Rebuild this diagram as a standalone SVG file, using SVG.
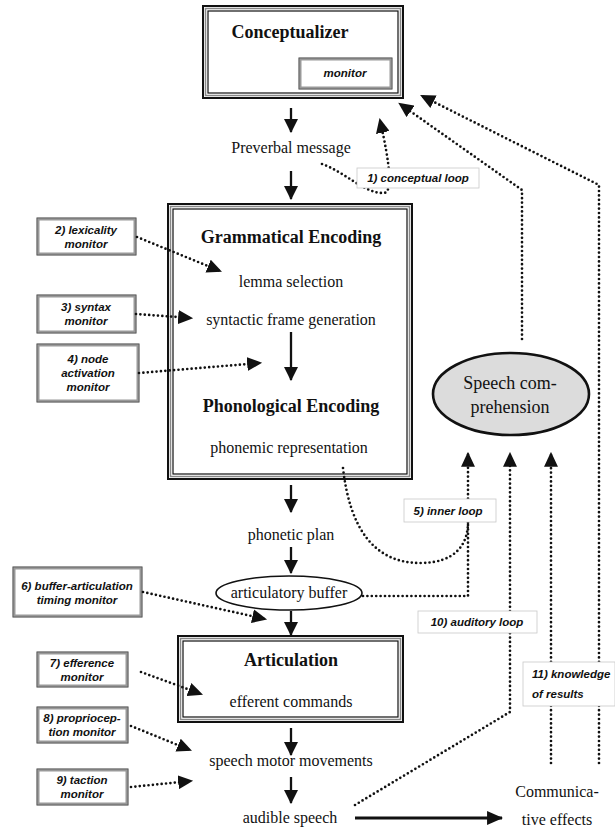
<svg xmlns="http://www.w3.org/2000/svg" width="615" height="832" viewBox="0 0 615 832">
<style>
.t{font-family:"Liberation Serif","Times New Roman",serif;font-size:16px;fill:#111;text-anchor:middle}
.tb{font-family:"Liberation Serif","Times New Roman",serif;font-size:18px;font-weight:bold;fill:#111;text-anchor:middle}
.sc{font-family:"Liberation Serif","Times New Roman",serif;font-size:18px;fill:#111;text-anchor:middle}
.m{font-family:"Liberation Sans",Arial,sans-serif;font-size:11.5px;font-weight:bold;font-style:italic;fill:#111;text-anchor:middle}
.ml{font-family:"Liberation Sans",Arial,sans-serif;font-size:11.5px;font-weight:bold;font-style:italic;fill:#111}
.b1{fill:#fff;stroke:#111;stroke-width:2}
.b2{fill:none;stroke:#888;stroke-width:1.5}
.b3{fill:none;stroke:#111;stroke-width:1.2}
.mo{fill:#fff;stroke:#999;stroke-width:3}
.mo2{fill:none;stroke:#555;stroke-width:0.8}
.lb{fill:#fff;stroke:#c8c8c8;stroke-width:0.8}
.sl{fill:none;stroke:#111;stroke-width:2.3;marker-end:url(#sa)}
.dt{fill:none;stroke:#111;stroke-width:2.7;stroke-linecap:round;stroke-dasharray:0 4.4}
.da{marker-end:url(#da)}
</style>
<defs>
<marker id="sa" markerUnits="userSpaceOnUse" markerWidth="14" markerHeight="14" viewBox="0 0 13 13" refX="12" refY="6.5" orient="auto"><path d="M0,0 L13,6.5 L0,13 z" fill="#111"/></marker>
<marker id="ta" markerUnits="userSpaceOnUse" markerWidth="16" markerHeight="14" viewBox="0 0 15 13" refX="14" refY="6.5" orient="auto"><path d="M0,0 L15,6.5 L0,13 z" fill="#111"/></marker>
<marker id="da" markerUnits="userSpaceOnUse" markerWidth="15" markerHeight="14" viewBox="0 0 14 13" refX="12" refY="6.5" orient="auto"><path d="M0,0 L14,6.5 L0,13 z" fill="#111"/></marker>
</defs>
<rect width="615" height="832" fill="#fff"/>

<g id="conceptualizer">
<rect class="b1" x="203" y="6" width="200" height="92"/>
<rect class="b2" x="205.5" y="8.5" width="195" height="87"/>
<rect class="b3" x="208" y="11" width="190" height="82"/>
<text class="tb" x="290" y="38">Conceptualizer</text>
</g>
<g id="monitor">
<rect class="mo" x="300" y="59" width="91" height="29"/>
<rect class="mo2" x="299" y="58" width="93" height="31"/>
<text class="m" x="345" y="77">monitor</text>
</g>
<g id="preverbal"><text class="t" x="291" y="153">Preverbal message</text></g>

<g id="formulator">
<rect class="b1" x="168" y="204" width="244" height="275"/>
<rect class="b2" x="170.5" y="206.5" width="239" height="270"/>
<rect class="b3" x="173" y="209" width="234" height="265"/>
<text class="tb" x="291" y="243">Grammatical Encoding</text>
<text class="t" x="291" y="287">lemma selection</text>
<text class="t" x="291" y="325">syntactic frame generation</text>
<text class="tb" x="291" y="412">Phonological Encoding</text>
<text class="t" x="289" y="453">phonemic representation</text>
</g>

<g id="phonetic-plan"><text class="t" x="291" y="540">phonetic plan</text></g>
<g id="articulatory-buffer">
<ellipse cx="289" cy="593" rx="73" ry="17" fill="#fff" stroke="#111" stroke-width="1.6"/>
<text class="t" x="289" y="598">articulatory buffer</text>
</g>

<g id="articulation">
<rect class="b1" x="178" y="636" width="225" height="86"/>
<rect class="b2" x="180.5" y="638.5" width="220" height="81"/>
<rect class="b3" x="183" y="641" width="215" height="76"/>
<text class="tb" x="291" y="666">Articulation</text>
<text class="t" x="291" y="707">efferent commands</text>
</g>
<g id="speech-motor"><text class="t" x="291" y="766">speech motor movements</text></g>
<g id="audible-speech"><text class="t" x="290" y="823">audible speech</text></g>
<g id="communicative-effects">
<text class="t" x="557" y="797">Communica-</text>
<text class="t" x="557" y="825">tive effects</text>
</g>

<g id="speech-comprehension">
<ellipse cx="511" cy="394" rx="78" ry="41" fill="#dcdcdc" stroke="#111" stroke-width="2.6"/>
<text class="sc" x="510" y="389">Speech com-</text>
<text class="sc" x="510" y="413">prehension</text>
</g>

<g id="m2">
<rect class="mo" x="38" y="219" width="97" height="35"/><rect class="mo2" x="37" y="218" width="99" height="37"/>
<text class="m" x="86" y="234">2) lexicality</text><text class="m" x="86" y="248">monitor</text>
</g>
<g id="m3">
<rect class="mo" x="38" y="296" width="97" height="36"/><rect class="mo2" x="37" y="295" width="99" height="38"/>
<text class="m" x="86" y="311">3) syntax</text><text class="m" x="86" y="325">monitor</text>
</g>
<g id="m4">
<rect class="mo" x="38" y="345" width="100" height="56"/><rect class="mo2" x="37" y="344" width="102" height="58"/>
<text class="m" x="88" y="363">4) node</text><text class="m" x="88" y="377">activation</text><text class="m" x="88" y="391">monitor</text>
</g>
<g id="m6">
<rect class="mo" x="14" y="568" width="127" height="48"/><rect class="mo2" x="13" y="567" width="129" height="50"/>
<text class="m" x="77" y="590">6) buffer-articulation</text><text class="m" x="77" y="604">timing monitor</text>
</g>
<g id="m7">
<rect class="mo" x="38" y="653" width="89" height="33"/><rect class="mo2" x="37" y="652" width="91" height="35"/>
<text class="m" x="82" y="667">7) efference</text><text class="m" x="82" y="681">monitor</text>
</g>
<g id="m8">
<rect class="mo" x="38" y="708" width="89" height="34"/><rect class="mo2" x="37" y="707" width="91" height="36"/>
<text class="m" x="82" y="722">8) propriocep-</text><text class="m" x="82" y="736">tion monitor</text>
</g>
<g id="m9">
<rect class="mo" x="38" y="770" width="89" height="34"/><rect class="mo2" x="37" y="769" width="91" height="36"/>
<text class="m" x="82" y="784">9) taction</text><text class="m" x="82" y="798">monitor</text>
</g>

<g id="connectors">
<path class="sl" d="M291 108V132"/>
<path class="sl" d="M291 171V199"/>
<path class="sl" d="M291 332V380"/>
<path class="sl" d="M291 485V512"/>
<path class="sl" d="M291 547V573"/>
<path class="sl" d="M291 611V635"/>
<path class="sl" d="M291 728V755"/>
<path class="sl" d="M291 777V803"/>
<path d="M355 818H502" fill="none" stroke="#111" stroke-width="3" marker-end="url(#ta)"/>
<path class="dt da" d="M322 164C345 172 365 194 384 193C393 192 390 165 380 120"/>
<path class="dt da" d="M522 339V190L400 104"/>
<path class="dt da" d="M599 763V185L422 96"/>
<path class="dt da" d="M355 805L510 712V454"/>
<path class="dt da" d="M551 763V454"/>
<path class="dt da" d="M363 596H468V454"/>
<path class="dt" d="M343 468C350 530 375 563 420 563C455 563 468 545 468 522"/>
<path class="dt da" d="M137 237L220 271"/>
<path class="dt da" d="M136 314L191 318"/>
<path class="dt da" d="M139 373L260 363"/>
<path class="dt da" d="M143 592L265 619"/>
<path class="dt da" d="M141 672L201 694"/>
<path class="dt da" d="M131 726L190 750"/>
<path class="dt da" d="M131 787L191 781"/>
</g>

<g id="l1"><rect class="lb" x="357" y="168" width="122" height="20"/><text class="m" x="418" y="182">1) conceptual loop</text></g>
<g id="l5"><rect class="lb" x="404" y="499" width="92" height="23"/><text class="m" x="448" y="515">5) inner loop</text></g>
<g id="l10"><rect class="lb" x="418" y="611" width="119" height="22"/><text class="m" x="477" y="626">10) auditory loop</text></g>
<g id="l11"><rect class="lb" x="523" y="662" width="92" height="44"/><text class="ml" x="532" y="678">11) knowledge</text><text class="ml" x="532" y="698">of results</text></g>
</svg>
